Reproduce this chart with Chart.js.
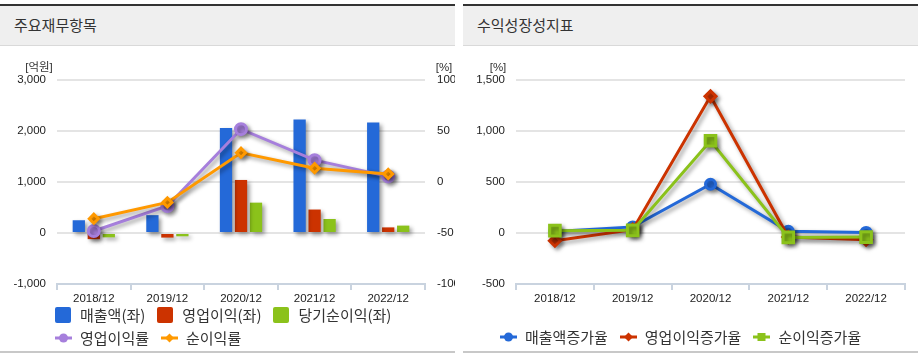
<!DOCTYPE html>
<html>
<head>
<meta charset="utf-8">
<script src="https://cdn.jsdelivr.net/npm/chart.js@4.4.0/dist/chart.umd.min.js"></script>
<style>
  body { margin: 0; background: #fff; width: 923px; height: 358px; overflow: hidden;
         font-family: "Noto Sans CJK KR", "Noto Sans", sans-serif; color: #333; }
  .panel { position: absolute; top: 0; width: 455px; height: 358px; }
  .panel .bar { position: absolute; left: 0; right: 0; top: 4px; height: 2px; background: #333; }
  .panel .head { position: absolute; left: 0; right: 0; top: 6px; height: 39px; background: #efefef;
                 border-bottom: 1px solid #d9d9d9; }
  .panel .head span { position: absolute; left: 14px; top: 9px; font-size: 15px; line-height: 20px; color: #333; }
  .panel canvas { position: absolute; left: 0; top: 47px; }
  .panel .foot { position: absolute; left: 0; right: 0; top: 351px; height: 2px; background: #c8c8c8; }
  .legend { position: absolute; display: flex; flex-wrap: wrap; font-size: 15px; color: #333; }
  .legend .item { display: flex; align-items: center; height: 23px; margin-right: 12px; white-space: nowrap; }
  .legend .box { width: 16px; height: 16px; border-radius: 2px; margin-right: 9px; }
  .legend svg { margin-right: 8px; }
</style>
</head>
<body>
<div class="panel" style="left:0">
  <div class="bar"></div>
  <div class="head"><span>주요재무항목</span></div>
  <canvas id="finance" width="455" height="260"></canvas>
  <div class="legend" id="financeLegend" style="left:55px; top:303px; width:380px"></div>
  <div class="foot"></div>
</div>
<div class="panel" style="left:463px">
  <div class="bar"></div>
  <div class="head"><span>수익성장성지표</span></div>
  <canvas id="growth" width="455" height="260"></canvas>
  <div class="legend" id="growthLegend" style="left:37px; top:325px; width:410px"></div>
  <div class="foot"></div>
</div>
<script>
const years = ['2018/12', '2019/12', '2020/12', '2021/12', '2022/12'];

// 억원
const sales = [250, 350, 2060, 2225, 2165];
const opProfit = [-120, -90, 1040, 460, 110];
const netProfit = [-85, -65, 595, 275, 145];
// %
const opMargin = [-48, -23.5, 51.8, 21.4, 5.5];
const netMargin = [-36, -20, 28.7, 13.5, 7.9];

// 증가율 %
const salesGrowth = [15, 60, 478, 16, 6];
const opGrowth = [-76, 33, 1340, -40, -66];
const netGrowth = [23, 26, 904, -43, -40];

const blue = '#2469d8', red = '#cc3300', green = '#8bc21b', purple = '#a67fdc', orange = '#ff9900';
const axisColor = '#c9d3df';
const tickFont = { family: '"Liberation Sans", "Noto Sans CJK KR", sans-serif', size: 11.5 };
const fmt = v => Number(v).toLocaleString('en-US');

const shadow = {
  id: 'shadow',
  beforeDatasetsDraw(chart) {
    const c = chart.ctx;
    c.save();
    c.shadowColor = 'rgba(0,0,0,0.4)';
    c.shadowBlur = 4;
    c.shadowOffsetX = 2.5;
    c.shadowOffsetY = 2.5;
  },
  afterDatasetsDraw(chart) { chart.ctx.restore(); }
};

// unit labels above the y axes
const units = {
  id: 'units',
  afterDraw(chart, args, opts) {
    const c = chart.ctx;
    c.save();
    c.font = '11.5px "Liberation Sans", "Noto Sans CJK KR", sans-serif';
    c.fillStyle = '#333';
    c.textAlign = 'center';
    c.textBaseline = 'middle';
    opts.items.forEach(it => {
      const s = chart.scales[it.axis];
      const x = s.position === 'left' ? s.right - 18 : s.left + 19;
      c.fillText(it.text, x, chart.chartArea.top - 12);
    });
    c.restore();
  }
};

function xAxis() {
  return {
    offset: true,
    grid: { offset: true, drawOnChartArea: false, drawTicks: true, tickLength: 6, color: axisColor, lineWidth: 2 },
    border: { display: true, color: axisColor, width: 2 },
    ticks: { color: '#222', font: tickFont, padding: 2, maxRotation: 0, autoSkip: false },
    afterFit: s => { s.height = 23; }
  };
}

function yAxis(pos, min, max, step, width, pad, grid) {
  return {
    position: pos, min: min, max: max,
    ticks: { stepSize: step, padding: pad, color: '#222', font: tickFont, callback: fmt },
    grid: grid ? { color: c => c.tick.value === min ? 'rgba(0,0,0,0)' : '#e4e4e4', lineWidth: 2, drawTicks: false }
               : { display: false, drawTicks: false },
    border: { display: false },
    afterFit: s => { s.width = width; }
  };
}

const finance = new Chart(document.getElementById('finance'), {
  type: 'bar',
  data: {
    labels: years,
    datasets: [
      { label: '매출액(좌)', data: sales, backgroundColor: blue, yAxisID: 'y', order: 3,
        categoryPercentage: 0.611, barPercentage: 0.82 },
      { label: '영업이익(좌)', data: opProfit, backgroundColor: red, yAxisID: 'y', order: 3,
        categoryPercentage: 0.611, barPercentage: 0.82 },
      { label: '당기순이익(좌)', data: netProfit, backgroundColor: green, yAxisID: 'y', order: 3,
        categoryPercentage: 0.611, barPercentage: 0.82 },
      { type: 'line', label: '영업이익률', data: opMargin, borderColor: purple, backgroundColor: purple,
        yAxisID: 'y1', order: 2, borderWidth: 3, pointStyle: 'circle', pointRadius: 5.5, tension: 0 },
      { type: 'line', label: '순이익률', data: netMargin, borderColor: orange, backgroundColor: orange,
        yAxisID: 'y1', order: 1, borderWidth: 3, pointStyle: 'rectRot', pointRadius: 4.5, tension: 0 }
    ]
  },
  options: {
    responsive: false,
    animation: false,
    layout: { padding: { top: 33, bottom: 0, left: 0, right: 0 } },
    plugins: {
      legend: { display: false },
      tooltip: { enabled: false },
      units: { items: [{ axis: 'y', text: '[억원]' }, { axis: 'y1', text: '[%]' }] }
    },
    scales: {
      x: xAxis(),
      y: yAxis('left', -1000, 3000, 1000, 57, 11, true),
      y1: yAxis('right', -100, 100, 50, 30, 12, false)
    }
  },
  plugins: [shadow, units]
});

const growth = new Chart(document.getElementById('growth'), {
  type: 'line',
  data: {
    labels: years,
    datasets: [
      { label: '매출액증가율', data: salesGrowth, borderColor: blue, backgroundColor: blue, order: 2,
        borderWidth: 3, pointStyle: 'circle', pointRadius: 5, tension: 0 },
      { label: '영업이익증가율', data: opGrowth, borderColor: red, backgroundColor: red, order: 1,
        borderWidth: 3, pointStyle: 'rectRot', pointRadius: 5.5, tension: 0 },
      { label: '순이익증가율', data: netGrowth, borderColor: green, backgroundColor: green, order: 0,
        borderWidth: 3, pointStyle: 'rect', pointRadius: 7.5, tension: 0 }
    ]
  },
  options: {
    responsive: false,
    animation: false,
    layout: { padding: { top: 33, bottom: 0, left: 0, right: 13 } },
    plugins: {
      legend: { display: false },
      tooltip: { enabled: false },
      units: { items: [{ axis: 'y', text: '[%]' }] }
    },
    scales: {
      x: xAxis(),
      y: yAxis('left', -500, 1500, 500, 53, 11, true)
    }
  },
  plugins: [shadow, units]
});

function marker(ds) {
  const c = ds.borderColor;
  let shape = '';
  if (ds.pointStyle === 'circle') shape = `<circle cx="8.5" cy="6" r="4.5" fill="${c}"/>`;
  else if (ds.pointStyle === 'rectRot') shape = `<polygon points="8.5,1.5 13,6 8.5,10.5 4,6" fill="${c}"/>`;
  else shape = `<rect x="4.5" y="2" width="8" height="8" fill="${c}"/>`;
  return `<svg width="17" height="12"><line x1="0" y1="6" x2="17" y2="6" stroke="${c}" stroke-width="3"/>${shape}</svg>`;
}

function makeLegend(el, chart) {
  el.innerHTML = chart.data.datasets.map(ds => {
    const isBar = (ds.type || chart.config.type) === 'bar';
    const m = isBar ? `<span class="box" style="background:${ds.backgroundColor}"></span>` : marker(ds);
    return `<div class="item">${m}<span>${ds.label}</span></div>`;
  }).join('');
}
makeLegend(document.getElementById('financeLegend'), finance);
makeLegend(document.getElementById('growthLegend'), growth);
</script>
</body>
</html>
